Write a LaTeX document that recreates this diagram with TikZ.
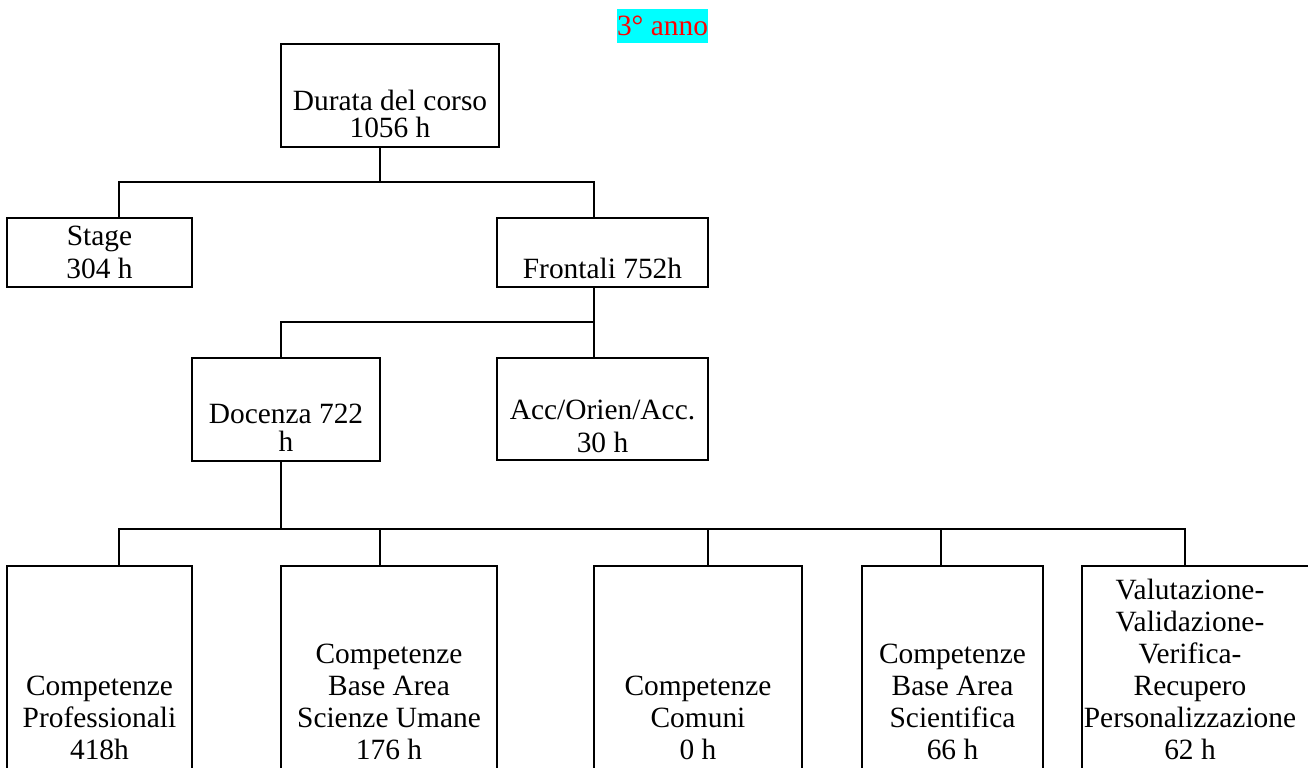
\documentclass[tikz,border=0pt]{standalone}
\usepackage{fontspec}
\setmainfont{Liberation Serif}
\usetikzlibrary{fit}
\definecolor{hlcyan}{RGB}{0,255,255}
\definecolor{txtred}{RGB}{255,0,0}
\begin{document}
\begin{tikzpicture}[x=0.5pt,y=-0.5pt,
  box/.style={draw=black, line width=1.35pt, inner sep=0pt, outer sep=0pt},
  conn/.style={draw=black, line width=1.35pt},
  txt/.style={inner sep=0pt, align=center, anchor=base, font=\fontsize{14.7}{#1}\selectfont},
  txt/.default=16pt]
\useasboundingbox (0,0) rectangle (1308,767);
\clip (0,0) rectangle (1308,767);
% title
\node[fill=hlcyan, text=txtred, inner xsep=0pt, inner ysep=0pt, text height=13pt, text depth=4pt, anchor=base, font=\fontsize{14.7}{16}\selectfont] (title) at (662.5,35) {3° anno};
% boxes
\node[box, fit={(281,44) (499,147)}] (top) {};
\node[box, fit={(7,218) (192,287)}] (stage) {};
\node[box, fit={(497,218) (708,287)}] (front) {};
\node[box, fit={(192,358) (380,461)}] (doc) {};
\node[box, fit={(497,358) (708,460)}] (acc) {};
\node[box, fit={(7,566) (192,800)}] (b1) {};
\node[box, fit={(281,566) (497,800)}] (b2) {};
\node[box, fit={(594,566) (802,800)}] (b3) {};
\node[box, fit={(862,566) (1043,800)}] (b4) {};
\node[box, fit={(1082,566) (1330,800)}] (b5) {};
% texts (anchor = baseline of last line)
\node[txt=13.5pt] (ttop) at (390,137) {Durata del corso\\1056 h};
\node[txt=16.5pt] (tstage) at (99.5,278) {Stage\\304 h};
\node[txt] (tfront) at (602.5,278) {Frontali 752h};
\node[txt=14pt] (tdoc) at (286,451) {Docenza 722\\h};
\node[txt=16.5pt] (tacc) at (602.5,452) {Acc/Orien/Acc.\\30 h};
\node[txt] (tb1) at (99.5,759) {Competenze\\Professionali\\418h};
\node[txt] (tb2) at (389,759) {Competenze\\Base Area\\Scienze Umane\\176 h};
\node[txt] (tb3) at (698,759) {Competenze\\Comuni\\0 h};
\node[txt] (tb4) at (952.5,759) {Competenze\\Base Area\\Scientifica\\66 h};
\node[txt] (tb5) at (1190,759) {Valutazione-\\Validazione-\\Verifica-\\Recupero\\Personalizzazione\\62 h};
% bus coordinates
\coordinate (y1) at (0,182);
\coordinate (y2) at (0,322);
\coordinate (y3) at (0,529);
\coordinate (xa) at (119,0);
\coordinate (xb) at (380,0);
\coordinate (xc) at (594,0);
\coordinate (xd) at (281,0);
\coordinate (xe) at (708,0);
\coordinate (xf) at (941,0);
\coordinate (xg) at (1185,0);
% connectors
\draw[conn] (top.south -| xb) -- (y1 -| xb);
\draw[conn] (stage.north -| xa) -- (y1 -| xa) -- (y1 -| xc) -- (front.north -| xc);
\draw[conn] (front.south -| xc) -- (acc.north -| xc);
\draw[conn] (doc.north -| xd) -- (y2 -| xd) -- (y2 -| xc);
\draw[conn] (doc.south -| xd) -- (y3 -| xd);
\draw[conn] (b1.north -| xa) -- (y3 -| xa) -- (y3 -| xg) -- (b5.north -| xg);
\draw[conn] (b2.north -| xb) -- (y3 -| xb);
\draw[conn] (b3.north -| xe) -- (y3 -| xe);
\draw[conn] (b4.north -| xf) -- (y3 -| xf);
\end{tikzpicture}
\end{document}
